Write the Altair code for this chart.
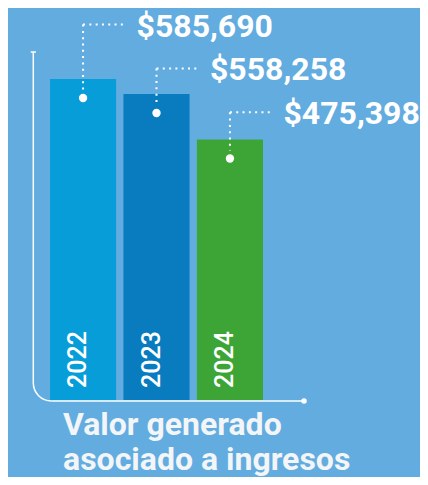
import altair as alt
import pandas as pd

years = ["2022", "2023", "2024"]
values = [585690, 558258, 475398]
labels = ["$585,690", "$558,258", "$475,398"]
bar_colors = ["#069DD8", "#097CC0", "#3DA536"]
title_lines = ["Valor generado", "asociado a ingresos"]

BG = "#62ACE0"
WHITE = "#FFFFFF"
FONT = "Roboto"

df = pd.DataFrame({"year": years, "value": values, "label": labels})
one = pd.DataFrame({"k": [0]})

x_scale = alt.Scale(domain=years, range=[42, 255], paddingInner=0.1, paddingOuter=0)
y_scale = alt.Scale(domain=[0, 635000], range=[392, 44], nice=False, zero=False)

base = alt.Chart(df).encode(x=alt.X("year:N", scale=x_scale, axis=None))

bars = base.mark_bar().encode(
    y=alt.Y("value:Q", scale=y_scale, axis=None),
    color=alt.Color("year:N", scale=alt.Scale(domain=years, range=bar_colors), legend=None),
)

leveled = base.transform_window(
    rank="row_number()", sort=[alt.SortField("value", order="descending")]
).transform_calculate(level="685000 - 80000 * (datum.rank - 1)")

vdots = leveled.mark_rule(
    color=WHITE, strokeWidth=2, strokeDash=[2, 4.3], y2Offset=11
).encode(y=alt.Y("level:Q", scale=y_scale, axis=None), y2="value:Q")

hdots = leveled.mark_rule(
    color=WHITE, strokeWidth=2, strokeDash=[2, 4.3], x2Offset=44
).encode(y=alt.Y("level:Q", scale=y_scale, axis=None), x2="year:N")

vlabels = leveled.mark_text(
    align="left", baseline="alphabetic", dx=53.5, dy=12, fontSize=32,
    fontWeight="bold", font=FONT, color=WHITE,
).encode(y=alt.Y("level:Q", scale=y_scale, axis=None), text="label:N")

dots = base.mark_circle(size=70, opacity=1, color=WHITE, yOffset=19).encode(
    y=alt.Y("value:Q", scale=y_scale, axis=None)
)

year_text = base.mark_text(
    angle=270, align="left", baseline="middle", dx=12, dy=-5, fontSize=25,
    fontWeight=500, font=FONT, color=WHITE,
).encode(y=alt.datum(0), text="year:N")

deco = alt.Chart(one)
vaxis = deco.mark_rule(color=WHITE, strokeWidth=1.5, y2Offset=-17).encode(
    x=alt.value(25.3), y=alt.datum(635000), y2=alt.datum(0)
)
cap = deco.mark_rule(color=WHITE, strokeWidth=1.5).encode(
    x=alt.value(22.7), x2=alt.value(28), y=alt.datum(635000)
)
corner = deco.mark_arc(
    color=WHITE, radius=18.75, radius2=17.25, theta=3.14159, theta2=4.71239, yOffset=-17
).encode(x=alt.value(43.3), y=alt.datum(0))
haxis = deco.mark_rule(color=WHITE, strokeWidth=1.5, yOffset=1).encode(
    x=alt.value(43.3), x2=alt.value(296), y=alt.datum(0)
)
enddot = deco.mark_circle(color=WHITE, opacity=1, size=30, yOffset=1).encode(
    x=alt.value(296), y=alt.datum(0)
)

chart = alt.layer(
    bars, vdots, hdots, vlabels, dots, year_text, vaxis, cap, corner, haxis, enddot
).properties(
    width=412,
    height=400,
    autosize=alt.AutoSizeParams(type="none"),
    padding={"left": 0, "top": 0, "right": 0, "bottom": 69},
    title=alt.Title(
        title_lines, orient="bottom", anchor="start", frame="group", dx=55, offset=27,
        fontSize=32, font=FONT, fontWeight="bold", color="#F3F5F7",
        baseline="alphabetic", lineHeight=35,
    ),
).configure(background=BG).configure_view(stroke=None)

chart.save("out.html", embed_options={"renderer": "svg", "actions": False})
